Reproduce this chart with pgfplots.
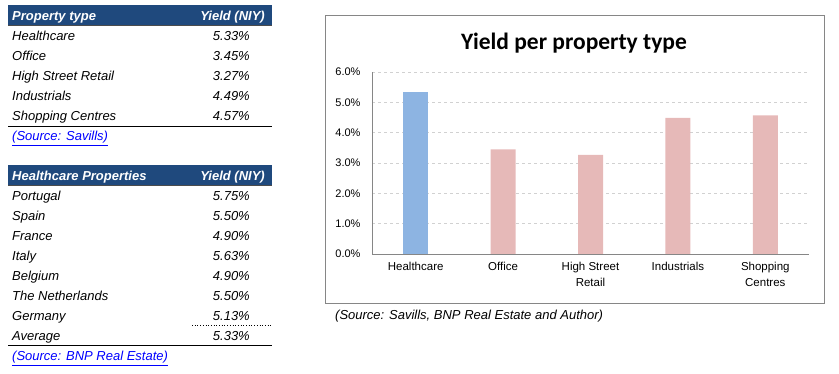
\documentclass[border=0pt]{standalone}
\usepackage{pgfplots}
\pgfplotsset{compat=1.18}
\usepackage{fontspec}
\setmainfont{Liberation Sans}
\newfontfamily\titlefont{Carlito}
\definecolor{hdrblue}{HTML}{1F497D}
\definecolor{barblue}{HTML}{8DB4E2}
\definecolor{barpink}{HTML}{E6B9B8}
\definecolor{linkblue}{HTML}{0000FF}
\definecolor{frame}{HTML}{868686}
\begin{document}
\begin{tikzpicture}[x=1pt,y=1pt]
\path (0,0) rectangle (839,-374);
\tikzset{tt/.style={inner sep=0pt,font=\fontsize{13}{15}\selectfont\itshape},
 hd/.style={inner sep=0pt,text=white,font=\fontsize{13}{15}\selectfont\bfseries\itshape}}
% ---- table 1
\fill[hdrblue] (8,-5) rectangle (272,-25);
\draw[black!70, line width=0.6pt] (8,-25) -- (272,-25);
\node[hd,anchor=base west] at (12,-20.7) {Property type};
\node[hd,anchor=base east] at (265,-20.7) {Yield (NIY)};
\foreach \n/\v [count=\i from 0] in {Healthcare/5.33, Office/3.45, High Street Retail/3.27, Industrials/4.49, Shopping Centres/4.57}{
  \node[tt,anchor=base west] at (12,-41-20*\i) {\n};
  \node[tt,anchor=base east] at (250,-41-20*\i) {\v\%};
}
\draw[black, line width=0.8pt] (8,-126) -- (272,-126);
\node[tt,anchor=base west,text=linkblue] at (12,-141) {\underline{(Source: Savills)}};
% ---- table 2
\fill[hdrblue] (8,-165) rectangle (272,-185);
\draw[black!70, line width=0.6pt] (8,-185) -- (272,-185);
\node[hd,anchor=base west] at (12,-180.7) {Healthcare Properties};
\node[hd,anchor=base east] at (265,-180.7) {Yield (NIY)};
\foreach \n/\v [count=\i from 0] in {Portugal/5.75, Spain/5.50, France/4.90, Italy/5.63, Belgium/4.90, The Netherlands/5.50, Germany/5.13, Average/5.33}{
  \node[tt,anchor=base west] at (12,-200.7-20*\i) {\n};
  \node[tt,anchor=base east] at (250,-200.7-20*\i) {\v\%};
}
\draw[black, line width=0.7pt, dotted] (192,-325) -- (272,-325);
\draw[black, line width=0.8pt] (8,-345) -- (272,-345);
\node[tt,anchor=base west,text=linkblue] at (12,-361) {\underline{(Source: BNP Real Estate)}};
% ---- chart
\draw[frame, line width=1pt] (325,-16) rectangle (824,-304);
\node[font=\titlefont\fontsize{23.5}{26}\selectfont\bfseries] at (574,-43) {Yield per property type};
\begin{axis}[
  at={(372pt,-254pt)}, anchor=south west,
  scale only axis, width=437pt, height=182pt,
  xmin=-0.5, xmax=4.5, ymin=0, ymax=6,
  ytick={0,1,2,3,4,5,6},
  yticklabels={0.0\%,1.0\%,2.0\%,3.0\%,4.0\%,5.0\%,6.0\%},
  xtick={0,1,2,3,4},
  xticklabels={Healthcare,Office,{High Street\\Retail},Industrials,{Shopping\\Centres}},
  xticklabel style={align=center, font=\fontsize{11.5}{16}\selectfont, yshift=-5pt},
  yticklabel style={font=\fontsize{11}{13}\selectfont, xshift=-8pt},
  axis x line*=bottom, axis y line*=left,
  axis line style={draw=frame, -},
  major tick length=0pt,
  ymajorgrids, grid style={dashed, black!18},
  ybar, bar width=25pt,
]
\addplot[fill=barblue, draw=none, bar shift=0pt] coordinates {(0,5.33)};
\addplot[fill=barpink, draw=none, bar shift=0pt] coordinates {(1,3.45) (2,3.27) (3,4.49) (4,4.57)};
\end{axis}
\node[tt,anchor=base west] at (335,-320) {(Source: Savills, BNP Real Estate and Author)};
\end{tikzpicture}
\end{document}
